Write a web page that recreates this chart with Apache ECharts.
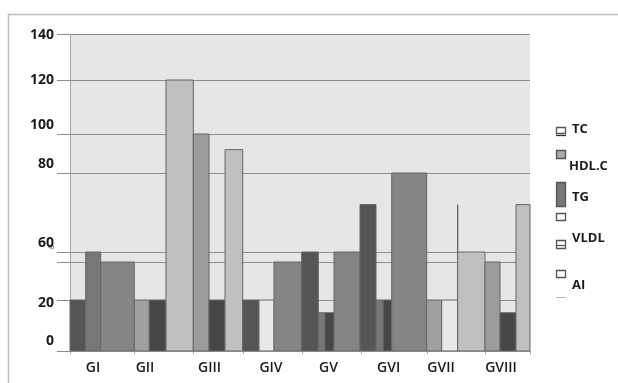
<!DOCTYPE html>
<html>
<head>
<meta charset="utf-8">
<script src="https://cdn.jsdelivr.net/npm/echarts@6/dist/echarts.min.js"></script>
<style>
html, body { margin: 0; padding: 0; background: #fff; }
#main { width: 618px; height: 383px; }
</style>
</head>
<body>
<div id="main"></div>
<script>
// groups along the bottom
const groups = ['GI', 'GII', 'GIII', 'GIV', 'GV', 'GVI', 'GVII', 'GVIII'];
// bar heights read against the y labels, left to right
const barValues = [20, 60, 40, 20, 20, 120, 100, 20, 92, 20, 20, 40, 60, 15, 15, 60, 72, 20, 20, 80, 20, 20, 72, 60, 40, 15, 72];
// widths of the bars as drawn (the 0 one is only an outline)
const barWidths = [15.7, 15, 33.6, 15, 16.7, 27.3, 15.7, 16, 17.7, 16.3, 15, 27.7, 16.6, 6.7, 9, 26, 16, 7.3, 8.4, 35, 15, 16, 0, 27.3, 15, 16, 14];
const barColors = ['#555555', '#777777', '#858585', '#a0a0a0', '#464646', '#c0c0c0', '#9c9c9c', '#464646',
    '#c0c0c0', '#555555', '#e8e8e8', '#858585', '#555555', '#777777', '#464646', '#858585',
    '#555555', '#777777', '#464646', '#858585', '#a0a0a0', '#e8e8e8', '#6a6a6a', '#c0c0c0',
    '#9c9c9c', '#464646', '#c0c0c0'];
// y labels; the original axis is not evenly spaced, so keep where each line sits
const yTicks = [0, 20, 40, 60, 80, 100, 120, 140];
const yTickPos = [0, 51, 89, 99, 178, 217, 271, 317];
const yLabelPos = [10, 48, 103, 108, 187, 226, 271, 316];
const groupPos = [23, 75, 139.5, 201, 258.5, 318.7, 371, 431];
const groupTicks = [0, 64, 123, 173, 232, 291, 357, 415, 460];
const legendNames = ['TC', 'HDL.C', 'TG', '', 'VLDL', 'AI'];

function toAxis(v) {
    for (let i = 1; i < yTicks.length; i++) {
        if (v <= yTicks[i]) {
            let t = (v - yTicks[i - 1]) / (yTicks[i] - yTicks[i - 1]);
            return yTickPos[i - 1] + t * (yTickPos[i] - yTickPos[i - 1]);
        }
    }
    return yTickPos[yTickPos.length - 1];
}

let bars = [];
let x = 0;
for (let i = 0; i < barValues.length; i++) {
    bars.push([x, x + barWidths[i], toAxis(barValues[i])]);
    x += barWidths[i];
}

const font = 'Open Sans';
const textColor = '#1c1c1c';

// legend glyphs, drawn by hand like the original
let legendGraphics = [];
const iconStroke = '#555';
legendGraphics.push({type: 'rect', shape: {x: 556.5, y: 127.5, width: 9, height: 6}, style: {fill: 'none', stroke: iconStroke, lineWidth: 1.3}});
legendGraphics.push({type: 'line', shape: {x1: 556, y1: 135.5, x2: 566, y2: 135.5}, style: {stroke: '#333', lineWidth: 1.3}});
legendGraphics.push({type: 'rect', shape: {x: 556.5, y: 150.5, width: 9, height: 8}, style: {fill: '#aaaaaa', stroke: iconStroke, lineWidth: 1.3}});
legendGraphics.push({type: 'rect', shape: {x: 556.5, y: 182.5, width: 9, height: 24}, style: {fill: '#777777', stroke: '#555', lineWidth: 1.3}});
legendGraphics.push({type: 'rect', shape: {x: 556.5, y: 213.5, width: 9, height: 7}, style: {fill: 'none', stroke: iconStroke, lineWidth: 1.3}});
legendGraphics.push({type: 'rect', shape: {x: 556.5, y: 240.5, width: 9, height: 8}, style: {fill: 'none', stroke: iconStroke, lineWidth: 1.3}});
legendGraphics.push({type: 'line', shape: {x1: 556, y1: 245.5, x2: 566, y2: 245.5}, style: {stroke: iconStroke, lineWidth: 1.3}});
legendGraphics.push({type: 'rect', shape: {x: 556.5, y: 270.5, width: 9, height: 7}, style: {fill: 'none', stroke: iconStroke, lineWidth: 1.3}});
legendGraphics.push({type: 'line', shape: {x1: 556, y1: 297.5, x2: 566, y2: 297.5}, style: {stroke: '#bbb'}});
const legendTextPos = [[572, 129], [569, 166], [572, 197], [572, 217], [572, 238], [572, 285]];
legendNames.forEach(function (name, i) {
    legendGraphics.push({
        type: 'text',
        style: {
            text: name, x: legendTextPos[i][0], y: legendTextPos[i][1],
            verticalAlign: 'middle', font: 'bold 13px "Open Sans"', fill: textColor
        }
    });
});

let myChart = echarts.init(document.getElementById('main'));
let option = {
    animation: false,
    backgroundColor: '#fff',
    grid: {
        left: 70, right: 88, top: 34, bottom: 32,
        show: true, backgroundColor: '#e6e6e6', borderWidth: 0,
        outerBoundsMode: 'none'
    },
    xAxis: {
        type: 'value', min: 0, max: 460,
        axisLine: {show: true, lineStyle: {color: '#a8a8a8'}},
        axisTick: {show: true, length: 3, customValues: groupTicks, lineStyle: {color: '#a8a8a8'}},
        splitLine: {show: false},
        axisLabel: {
            customValues: groupPos, margin: 10,
            formatter: function (v) {
                return groups[groupPos.indexOf(v)];
            },
            fontFamily: font, fontSize: 14, fontWeight: 600, color: textColor
        }
    },
    yAxis: {
        type: 'value', min: 0, max: 317,
        axisLine: {show: true, lineStyle: {color: '#a8a8a8'}},
        axisTick: {show: true, length: 13, customValues: yTickPos, lineStyle: {color: '#8c8c8c'}},
        splitLine: {show: true, lineStyle: {color: '#8c8c8c'}},
        axisLabel: {
            customValues: yLabelPos, margin: 16,
            formatter: function (v) {
                let i = yLabelPos.indexOf(v);
                if (yTicks[i] === 40) return '{s|40}';
                return String(yTicks[i]);
            },
            fontFamily: font, fontSize: 14, fontWeight: 'bold', color: textColor,
            rich: {s: {fontSize: 5, color: '#8a6a9a', fontFamily: font}}
        }
    },
    graphic: [
        {type: 'rect', shape: {x: 8.5, y: 14.5, width: 620, height: 380}, style: {fill: 'none', stroke: '#bdbdbd', lineWidth: 1.5}, silent: true}
    ].concat(legendGraphics),
    series: [{
        type: 'custom',
        data: bars,
        renderItem: function (params, api) {
            let p0 = api.coord([api.value(0), api.value(2)]);
            let p1 = api.coord([api.value(1), 0]);
            return {
                type: 'rect',
                shape: {x: p0[0], y: p0[1], width: p1[0] - p0[0], height: p1[1] - p0[1]},
                style: {fill: barColors[params.dataIndex], stroke: '#666', lineWidth: 1}
            };
        }
    }]
};
myChart.setOption(option);
</script>
</body>
</html>
